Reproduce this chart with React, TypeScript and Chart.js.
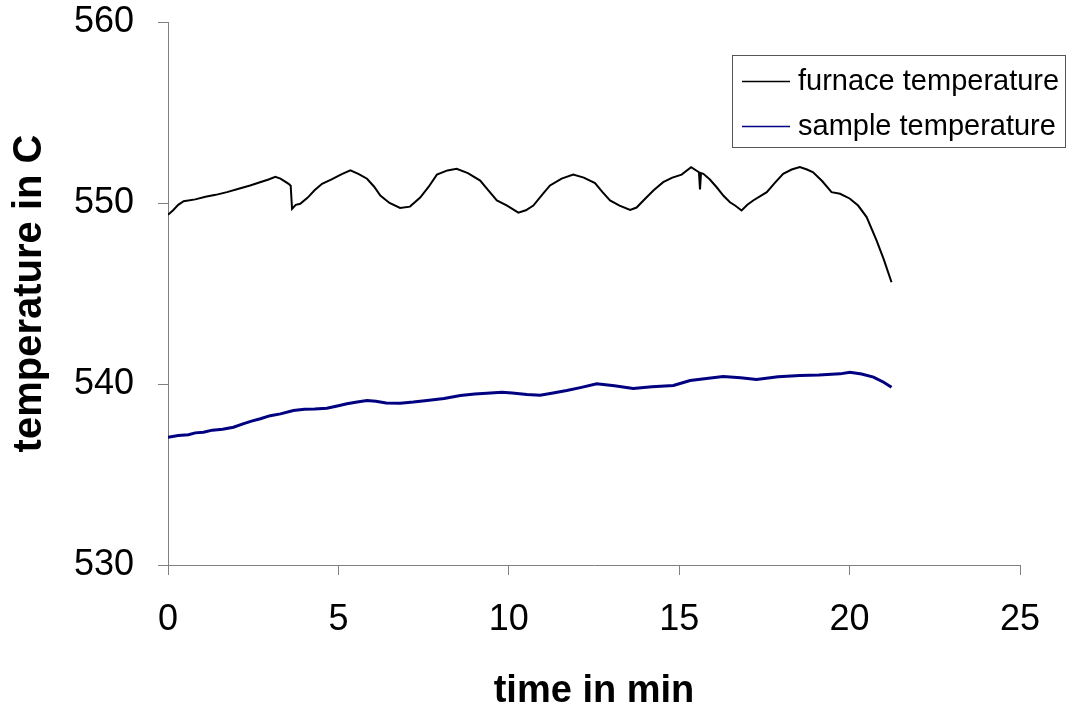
import React, { useEffect, useRef } from "react";
import { Chart, registerables } from "chart.js";

Chart.register(...registerables);

// furnace temperature readings (time in min, temperature in C)
const furnaceTime = [
  0.0, 0.15, 0.3, 0.46, 0.8, 1.1, 1.4, 1.73, 2.1, 2.41, 2.7, 2.95, 3.15, 3.3, 3.54, 3.6, 3.64, 3.75, 3.88,
  4.1, 4.3, 4.52, 4.8, 5.1, 5.35, 5.6, 5.84, 6.05, 6.23, 6.5, 6.81, 7.1, 7.4, 7.65, 7.89, 8.2, 8.47, 8.8,
  9.16, 9.4, 9.65, 9.95, 10.28, 10.5, 10.72, 11.0, 11.21, 11.55, 11.89, 12.2, 12.53, 12.75, 12.97, 13.25,
  13.56, 13.75, 13.95, 14.25, 14.53, 14.8, 15.07, 15.35, 15.58, 15.61, 15.64, 15.71, 15.9, 16.1, 16.3,
  16.49, 16.65, 16.83, 17.0, 17.17, 17.57, 17.8, 18.05, 18.3, 18.54, 18.75, 18.93, 19.2, 19.47, 19.72,
  20.0, 20.25, 20.5, 20.79, 21.0, 21.23,
];
const furnaceTemp = [
  549.35, 549.6, 549.9, 550.1, 550.2, 550.35, 550.45, 550.6, 550.8, 550.97, 551.15, 551.3, 551.45, 551.35,
  551.06, 550.95, 549.68, 549.9, 549.96, 550.3, 550.7, 551.06, 551.3, 551.6, 551.8, 551.6, 551.34, 550.9,
  550.41, 550.0, 549.73, 549.8, 550.3, 550.9, 551.57, 551.8, 551.89, 551.65, 551.24, 550.7, 550.14,
  549.85, 549.47, 549.6, 549.86, 550.5, 550.97, 551.35, 551.57, 551.4, 551.1, 550.6, 550.14, 549.85,
  549.62, 549.75, 550.14, 550.7, 551.15, 551.4, 551.57, 551.98, 551.7, 550.75, 551.65, 551.61, 551.3,
  550.87, 550.4, 550.04, 549.85, 549.59, 549.9, 550.14, 550.6, 551.1, 551.61, 551.85, 551.98, 551.85,
  551.7, 551.2, 550.6, 550.51, 550.25, 549.86, 549.22, 547.93, 546.9, 545.62,
];

// sample temperature readings (time in min, temperature in C)
const sampleTime = [
  0.0, 0.3, 0.6, 0.8, 1.04, 1.3, 1.6, 1.92, 2.2, 2.45, 2.71, 3.0, 3.3, 3.68, 4.0, 4.3, 4.66, 5.0, 5.25,
  5.55, 5.84, 6.1, 6.4, 6.81, 7.2, 7.6, 8.1, 8.58, 9.0, 9.35, 9.8, 10.1, 10.53, 10.92, 11.3, 11.7, 12.1,
  12.58, 13.1, 13.65, 14.2, 14.83, 15.32, 15.8, 16.29, 16.8, 17.27, 17.9, 18.54, 19.1, 19.72, 20.01,
  20.35, 20.7, 21.0, 21.23,
];
const sampleTemp = [
  537.06, 537.15, 537.2, 537.3, 537.34, 537.45, 537.5, 537.61, 537.8, 537.95, 538.08, 538.25, 538.35,
  538.54, 538.6, 538.62, 538.66, 538.8, 538.91, 539.0, 539.09, 539.05, 538.95, 538.94, 539.0, 539.09,
  539.2, 539.36, 539.45, 539.49, 539.55, 539.5, 539.42, 539.38, 539.5, 539.64, 539.8, 540.01, 539.9,
  539.75, 539.85, 539.92, 540.19, 540.3, 540.41, 540.35, 540.25, 540.4, 540.47, 540.5, 540.56, 540.65,
  540.55, 540.38, 540.1, 539.82,
];

const seriesLabels = ["furnace temperature", "sample temperature"];
const xTitle = "time in min";
const yTitle = "temperature in C";
const xMin = 0, xMax = 25, xStep = 5;
const yMin = 530, yMax = 560, yStep = 10;

const FONT = '"Liberation Sans", Arial, sans-serif';
const AXIS_GRAY = "#808080";

const boxLegend = {
  id: "boxLegend",
  afterDraw(chart: any) {
    const ctx = chart.ctx;
    ctx.save();
    ctx.fillStyle = "#ffffff";
    ctx.fillRect(732.5, 55.5, 333, 92);
    ctx.strokeStyle = "#555555";
    ctx.lineWidth = 1;
    ctx.strokeRect(732.5, 55.5, 333, 92);
    chart.data.datasets.forEach((ds: any, i: number) => {
      const y = 81.5 + i * 45;
      ctx.strokeStyle = ds.borderColor;
      ctx.lineWidth = 1.5;
      ctx.beginPath();
      ctx.moveTo(742, y);
      ctx.lineTo(790, y);
      ctx.stroke();
      ctx.fillStyle = "#000000";
      ctx.font = `29px ${FONT}`;
      ctx.textBaseline = "alphabetic";
      ctx.textAlign = "left";
      ctx.fillText(ds.label, 798, y + 8.5);
    });
    ctx.restore();
  },
};

export default function App() {
  const canvasRef = useRef<HTMLCanvasElement | null>(null);

  useEffect(() => {
    const canvas = canvasRef.current;
    if (!canvas) return;
    const chart = new Chart(canvas, {
      type: "line",
      data: {
        datasets: [
          {
            label: seriesLabels[0],
            data: furnaceTime.map((t, i) => ({ x: t, y: furnaceTemp[i] })),
            borderColor: "#000000",
            borderWidth: 2,
            pointRadius: 0,
            tension: 0,
          },
          {
            label: seriesLabels[1],
            data: sampleTime.map((t, i) => ({ x: t, y: sampleTemp[i] })),
            borderColor: "#000080",
            borderWidth: 3,
            pointRadius: 0,
            tension: 0,
          },
        ],
      },
      options: {
        responsive: false,
        animation: false,
        layout: { padding: { top: 0, right: 50, left: 0, bottom: 0 } },
        plugins: {
          legend: { display: false },
          tooltip: { enabled: false },
        },
        scales: {
          x: {
            type: "linear",
            min: xMin,
            max: xMax,
            ticks: {
              stepSize: xStep,
              font: { size: 36, family: FONT },
              color: "#000000",
              padding: 23,
              maxRotation: 0,
            },
            grid: {
              display: true,
              drawOnChartArea: false,
              drawTicks: true,
              tickLength: 10,
              color: AXIS_GRAY,
            },
            border: { color: AXIS_GRAY, width: 1 },
            title: {
              display: true,
              text: xTitle,
              color: "#000000",
              font: { size: 38, weight: "bold", family: FONT, lineHeight: 1 },
              padding: { top: 0, bottom: 0 },
            },
            afterFit: (s: any) => {
              s.height = 146;
            },
          },
          y: {
            type: "linear",
            min: yMin,
            max: yMax,
            ticks: {
              stepSize: yStep,
              font: { size: 36, family: FONT },
              color: "#000000",
              padding: 24,
            },
            grid: {
              display: true,
              drawOnChartArea: false,
              drawTicks: true,
              tickLength: 10,
              color: AXIS_GRAY,
            },
            border: { color: AXIS_GRAY, width: 1 },
            title: {
              display: true,
              text: yTitle,
              color: "#000000",
              font: { size: 40, weight: "bold", family: FONT, lineHeight: 1 },
              padding: { top: 10, bottom: 0 },
            },
            afterFit: (s: any) => {
              s.width = 168;
              s.paddingTop = 22;
              s.paddingBottom = 0;
            },
          },
        },
      } as any,
      plugins: [boxLegend],
    });
    return () => chart.destroy();
  }, []);

  return (
    <div style={{ position: "fixed", left: 0, top: 0, width: 1070, height: 711, background: "#fff" }}>
      <canvas ref={canvasRef} width={1070} height={711} style={{ display: "block" }} />
    </div>
  );
}
